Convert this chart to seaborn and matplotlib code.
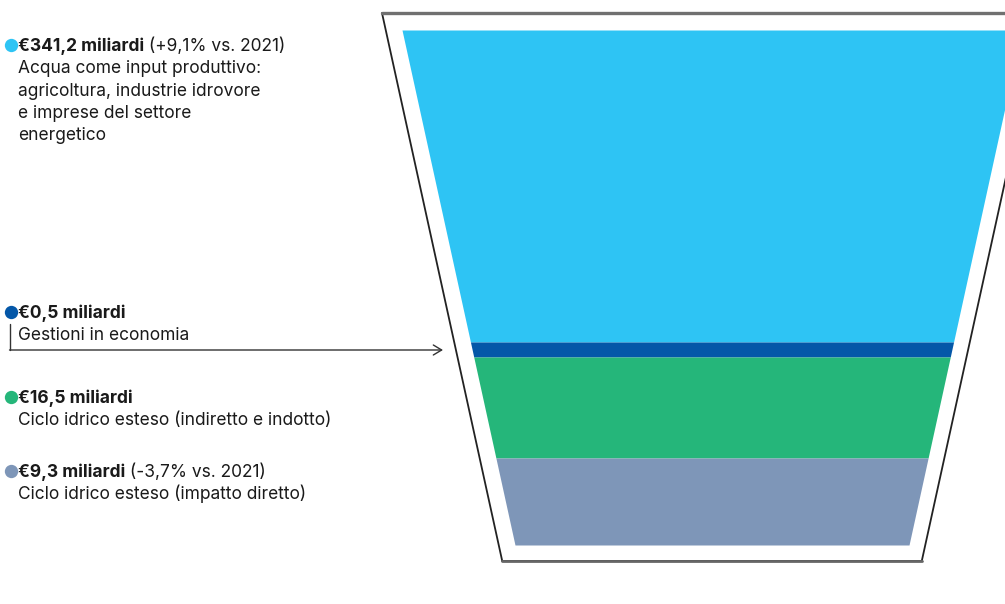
import matplotlib
matplotlib.use("Agg")
import matplotlib.pyplot as plt
import seaborn as sns
import numpy as np

# ---- data ----
values = ["€341,2 miliardi", "€0,5 miliardi", "€16,5 miliardi", "€9,3 miliardi"]
changes = [" (+9,1% vs. 2021)", "", "", " (-3,7% vs. 2021)"]
descriptions = [
    "Acqua come input produttivo:\nagricoltura, industrie idrovore\ne imprese del settore\nenergetico",
    "Gestioni in economia",
    "Ciclo idrico esteso (indiretto e indotto)",
    "Ciclo idrico esteso (impatto diretto)",
]
colors = ["#2EC4F4", "#0457A8", "#25B67A", "#7E96B8"]
# display heights of the funnel bands (stylised, not proportional)
band_heights = [312, 15, 101, 87]

sns.set_theme(style="white")
plt.rcParams["font.family"] = ["Inter", "DejaVu Sans"]

fig = plt.figure(figsize=(10.05, 6.04), dpi=100)
ax = fig.add_axes([0, 0, 1, 1])
ax.set_xlim(0, 1005)
ax.set_ylim(604, 0)
ax.axis("off")

# funnel outline
slope = 0.2194
ox_top, oy_top, oy_bot = 382, 13, 561
cx = 712
ox_bot = ox_top + slope * (oy_bot - oy_top)
ax.plot([ox_top, ox_bot, 2 * cx - ox_bot, 2 * cx - ox_top],
        [oy_top, oy_bot, oy_bot, oy_top], color="#222222", lw=1.3,
        solid_joinstyle="miter")
ax.plot([ox_bot, 2 * cx - ox_bot], [oy_bot, oy_bot], color="#666666", lw=2)
ax.plot([ox_top, 2 * cx - ox_top], [oy_top, oy_top], color="#707070", lw=2.4)

# bands
ix_top, iy_top = 402, 30
y0 = iy_top
for h, c in zip(band_heights, colors):
    ys = np.array([y0, y0 + h])
    left = ix_top + slope * (ys - iy_top)
    right = 2 * cx - left
    ax.fill_betweenx(ys, left, right, color=c, lw=0)
    y0 += h

# labels
text_x = 18
baselines = [51, 318, 403, 477]
line_gap = 22.3
fs = 12.5
for i, (v, ch, d, c, yb) in enumerate(zip(values, changes, descriptions, colors, baselines)):
    ax.scatter([10.5], [yb - 6.5], s=92, color=c, zorder=5, linewidths=0)
    t = ax.text(text_x, yb, v, fontsize=fs, fontweight="bold", color="#1a1a1a",
                va="baseline", ha="left")
    if ch:
        ax.annotate(ch, xy=(1, 0), xycoords=t, va="bottom", ha="left",
                    fontsize=fs, color="#1a1a1a")
    for j, line in enumerate(d.split("\n")):
        ax.text(text_x, yb + line_gap * (j + 1), line, fontsize=fs, color="#1a1a1a",
                va="baseline", ha="left")

# connector arrow for small band
ax.plot([10, 10], [324, 350], color="#333333", lw=1)
ax.annotate("", xy=(443, 350), xytext=(9.5, 350),
            arrowprops=dict(arrowstyle="->,head_length=0.5,head_width=0.3",
                            lw=1, color="#333333", shrinkA=0, shrinkB=0))

fig.savefig("out.png", dpi=100)
